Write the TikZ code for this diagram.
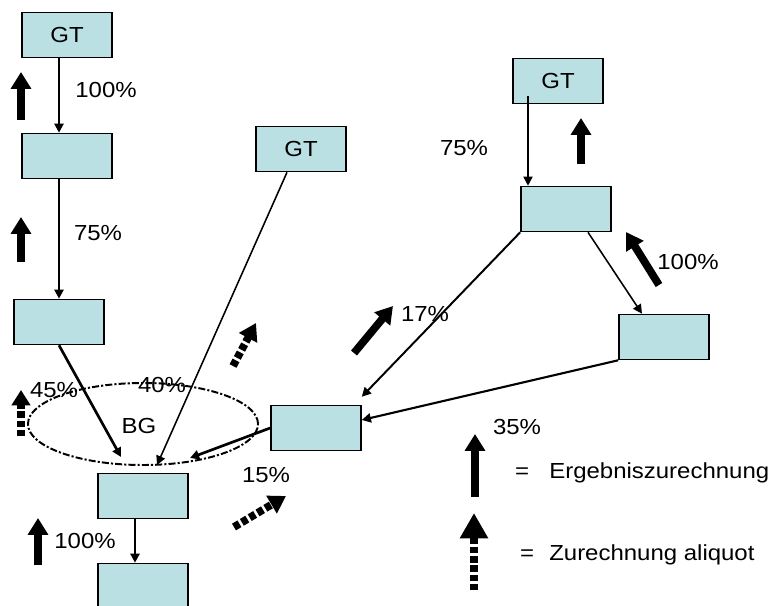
\documentclass[tikz,border=0pt]{standalone}
\usepackage{fontspec}
\setmainfont[FakeStretch=1.1]{Liberation Sans}
\usetikzlibrary{shapes.geometric, arrows.meta, positioning, calc}
\definecolor{boxfill}{RGB}{187,224,227}

\begin{document}
\begin{tikzpicture}[
            x=0.025cm, y=-0.025cm,
            % --- Stile ---
            box/.style={rectangle, draw, line width=1.1pt, fill=boxfill, minimum width=2.25cm,
                        minimum height=1.125cm, inner sep=0pt, font=\fontsize{15.5}{18}\selectfont},
            group/.style={ellipse, draw, line width=1.4pt, dash pattern=on 5pt off 1.5pt on 1.5pt off 1.5pt,
                          minimum width=5.75cm, minimum height=2.05cm, inner sep=0pt},
            pct/.style={inner sep=0pt, font=\fontsize{15.5}{18}\selectfont},
            line/.style={draw, line width=1.1pt, -{Triangle[length=6.5pt,width=6.5pt]}},
            thickline/.style={line, line width=1.9pt},
            result/.style={draw, line width=5.5pt, -{Triangle[length=12pt,width=14pt]}},
            aliquot/.style={result, dash pattern=on 4.5pt off 2pt}
        ]
        \useasboundingbox (0,0) rectangle (772,606);

        % --- Knoten ---
        \node[box] (gt1) at (67,35) {GT};
        \node[box] (b2) at (67,156) {};
        \node[box] (b3) at (59,322) {};
        \node[box] (gt2) at (301,149) {GT};
        \node[box] (gt3) at (558,81) {GT};
        \node[box] (br1) at (566,209) {};
        \node[box] (br2) at (664,337) {};
        \node[box] (bm) at (316,428) {};
        \node[box] (bb1) at (143,496) {};
        \node[box] (bb2) at (143,586) {};

        % Beteiligungsgruppe
        \node[group] (bg) at (143,424) {};
        \node[pct] (bglabel) at (139,426) {BG};
        \coordinate (bgL) at (121,457);
        \coordinate (bgM) at (157,465);
        \coordinate (bgR) at (190,458);

        % --- Verbindungen ---
        \path[line, line width=1.5pt] (b3 |- gt1.south) -- (b3 |- b2.north);
        \path[line, line width=1.5pt] (b3 |- b2.south) -- (b3.north);
        \path[thickline] (b3.south) -- (bgL);
        \path[line] ($(gt2.south)+(-14,0)$) -- (bgM);
        \path[thickline] (bm.west) -- (bgR);
        \path[thickline] ($(bb1.south)+(-8,0)$) -- ($(bb2.north)+(-8,0)$);
        \path[line] ($(gt3.south)+(-30,-8)$) coordinate (gt3src) -- (gt3src |- br1.north);
        \path[line, line width=1.4pt] (br1.south west) -- ($(bm.north east)+(0,-8)$);
        \path[line] ($(br1.south)+(22,0)$) -- ($(br2.north)+(-22,0)$);
        \path[line, line width=1.5pt] (br2.south west) -- ($(bm.east)+(0,-8)$);

        % --- Prozentsaetze ---
        \node[pct] (p100a) at (106,90) {100\%};
        \node[pct] (p75a) at (98,233) {75\%};
        \node[pct] (p75b) at (464,148) {75\%};
        \node[pct] (p100b) at (688,262) {100\%};
        \node[pct] (p17) at (425,314) {17\%};
        \node[pct] (p35) at (517,427) {35\%};
        \node[pct] (p45) at (54,390) {45\%};
        \node[pct] (p40) at (162,385) {40\%};
        \node[pct] (p15) at (266,475) {15\%};
        \node[pct] (p100c) at (85,541) {100\%};

        % --- Zurechnungspfeile ---
        \draw[result] (21,120) -- (21,72);
        \draw[result] (21,262) -- (21,217);
        \draw[result] (581,164) -- (581,118);
        \draw[result] (659,285) -- (626,232);
        \draw[result] (354,353) -- (393,306);
        \draw[result] (38,565) -- (38,518);
        \draw[aliquot, line width=5pt, -{Triangle[length=11pt,width=13pt]}] (21,436) -- (21,390);
        \draw[aliquot] (233,366) -- (256,323);
        \draw[aliquot] (234,527) -- (286,496);

        % --- Legende ---
        \draw[result] (475,497) -- (475,434);
        \draw[aliquot, -{Triangle[length=18pt,width=19pt]}] (474,590) -- (474,513);
        \node[pct] (eq1) at (522,473) {=};
        \node[pct, anchor=west] (leg1) at (549,473) {Ergebniszurechnung};
        \node[pct] (eq2) at (527,555) {=};
        \node[pct, anchor=west] (leg2) at (549,555) {Zurechnung aliquot};

\end{tikzpicture}
\end{document}
